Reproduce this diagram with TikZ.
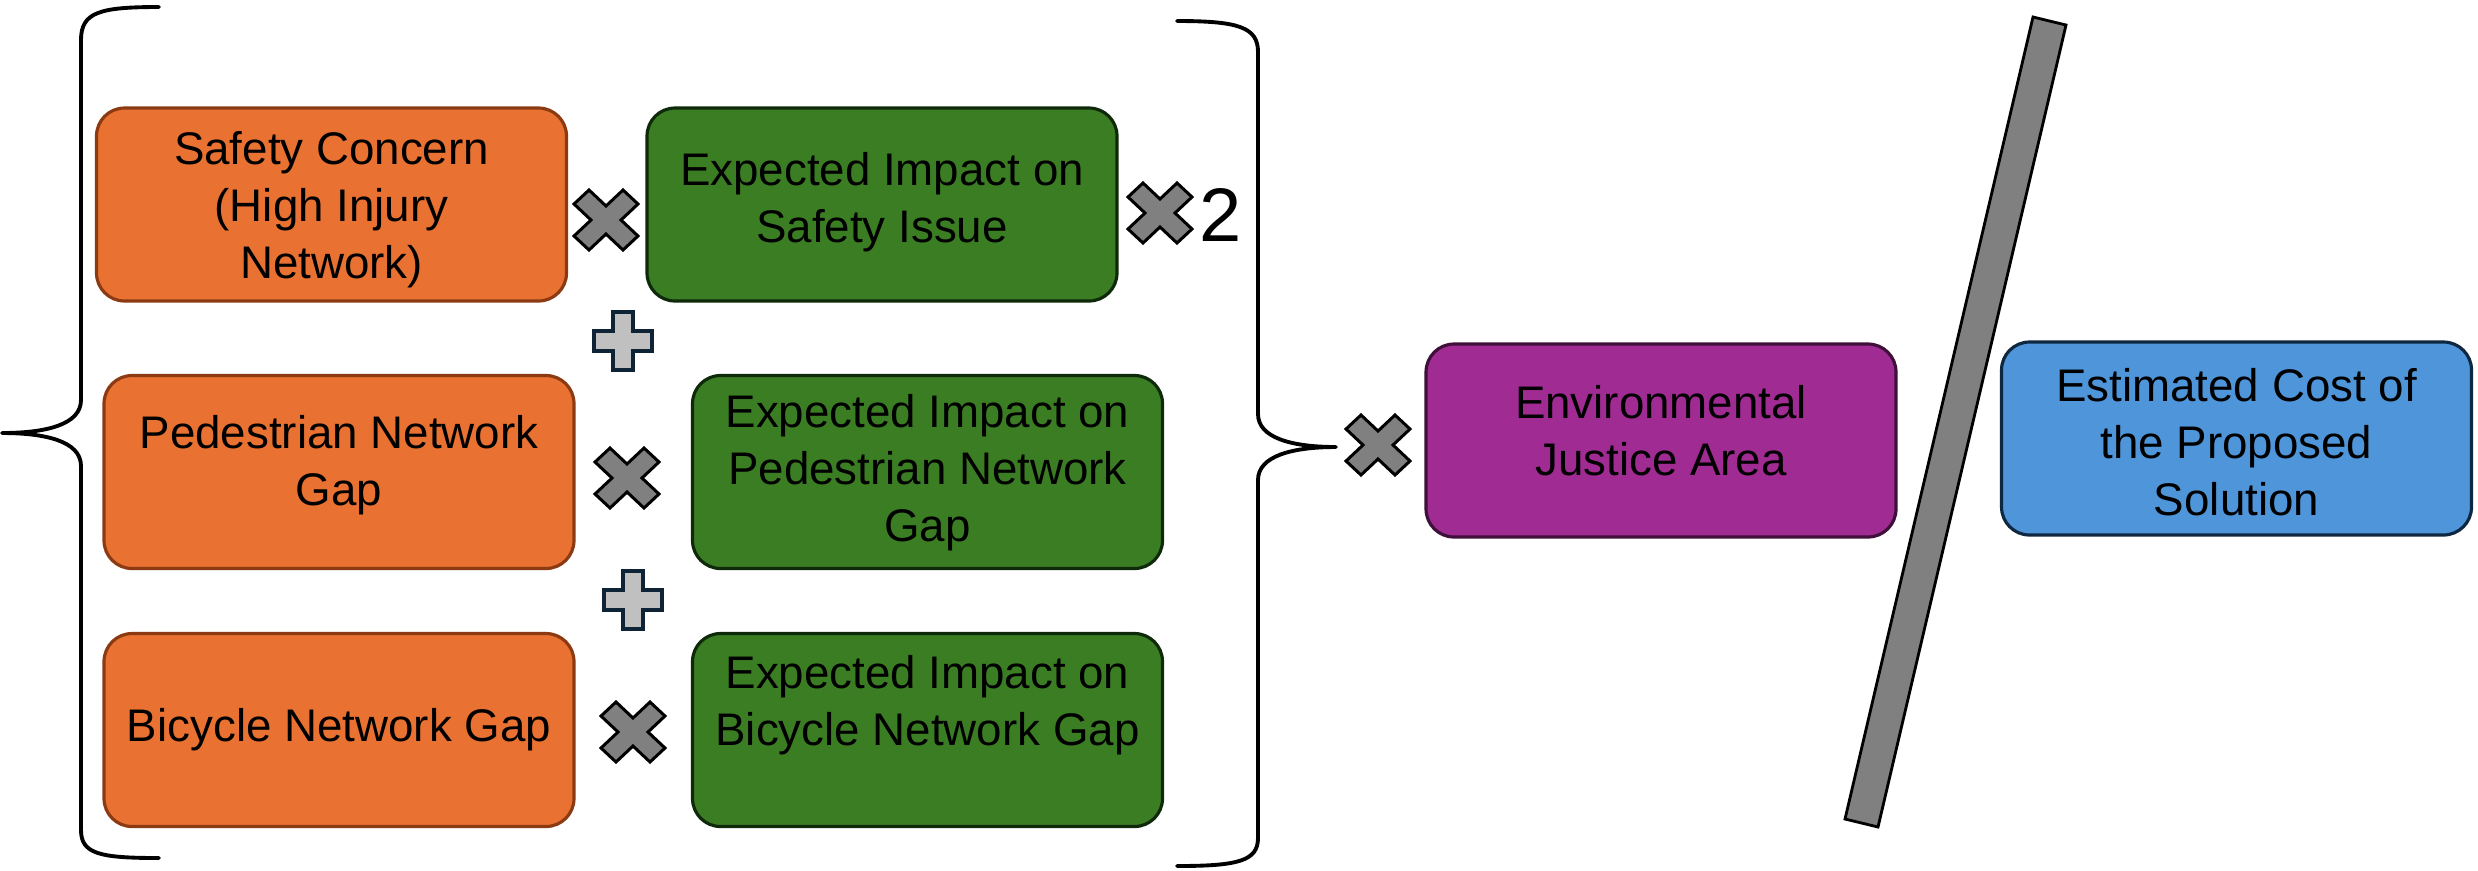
\documentclass[tikz,border=0pt]{standalone}
\usepackage{fontspec}
\setmainfont{Liberation Sans}
\definecolor{orfill}{HTML}{E97132}
\definecolor{ordraw}{HTML}{8B3A12}
\definecolor{grfill}{HTML}{3B7D23}
\definecolor{grdraw}{HTML}{0F2A0A}
\definecolor{pufill}{HTML}{A02B93}
\definecolor{pudraw}{HTML}{3F1039}
\definecolor{blfill}{HTML}{4E95D9}
\definecolor{bldraw}{HTML}{0E2841}
\definecolor{xgray}{HTML}{808080}
\definecolor{plgray}{HTML}{C0C0C0}
\definecolor{pldraw}{HTML}{0E2436}
% text block lowered by #1 (in units of 0.1mm), box size kept
\newcommand{\boxtext}[2]{\raisebox{-#1mm}[\height][\depth]{\begin{tabular}{@{}c@{}}#2\end{tabular}}}
\tikzset{
  box/.style={rounded corners=2.8mm, minimum width=47mm, minimum height=19.3mm,
    line width=0.9pt, align=center, inner sep=0pt,
    font=\fontsize{13}{16.2}\selectfont},
  orbox/.style={box, fill=orfill, draw=ordraw},
  grbox/.style={box, fill=grfill, draw=grdraw},
  pubox/.style={box, fill=pufill, draw=pudraw},
  blbox/.style={box, fill=blfill, draw=bldraw},
  bracesty/.style={line width=1.1pt, line cap=round, line join=round},
  pics/xmark/.style={code={
    \draw[fill=xgray, line width=0.85pt, line join=miter]
      (-32,-16) -- (-17,-30) -- (0,-14) -- (17,-30) -- (32,-16) -- (15,0)
      -- (32,16) -- (17,30) -- (0,14) -- (-17,30) -- (-32,16) -- (-15,0) -- cycle;
  }},
  pics/plusmark/.style={code={
    \draw[fill=plgray, draw=pldraw, line width=1.1pt, line join=miter]
      (-10,-29) -- (10,-29) -- (10,-10) -- (29,-10) -- (29,10) -- (10,10)
      -- (10,29) -- (-10,29) -- (-10,10) -- (-29,10) -- (-29,-10) -- (-10,-10) -- cycle;
  }}
}
\begin{document}
\begin{tikzpicture}[x=0.1mm,y=-0.1mm]
\useasboundingbox (0,0) rectangle (2478,870);

% left brace
\draw[bracesty] (159,7) .. controls (100,7) and (81,12) .. (81,40)
  -- (81,400) .. controls (81,425) and (45,433) .. (2,433)
  .. controls (45,433) and (81,441) .. (81,466)
  -- (81,830) .. controls (81,854) and (100,858) .. (159,858);

% right brace
\draw[bracesty] (1177,21) .. controls (1238,21) and (1258,27) .. (1258,52)
  -- (1258,414) .. controls (1258,438) and (1292,447) .. (1336,447)
  .. controls (1292,447) and (1258,456) .. (1258,480)
  -- (1258,838) .. controls (1258,861) and (1238,866) .. (1177,866);

% boxes
\node[orbox] (o1) at (331.5,204.5) {\boxtext{0.6}{Safety Concern\\(High Injury\\Network)}};
\node[grbox] (g1) at (882,204.5) {\boxtext{-0.2}{Expected Impact on\\Safety Issue}};
\node[orbox] (o2) at (339,472) {\boxtext{-0.6}{Pedestrian Network\\Gap}};
\node[grbox] (g2) at (927.5,472) {\boxtext{0.15}{Expected Impact on\\Pedestrian Network\\Gap}};
\node[orbox] (o3) at (339,730) {\boxtext{0.05}{Bicycle Network Gap}};
\node[grbox] (g3) at (927.5,730) {\boxtext{-2.4}{Expected Impact on\\Bicycle Network Gap}};
\node[pubox] (p1) at (1661,440.5) {\boxtext{-0.45}{Environmental\\Justice Area}};
\node[blbox] (b1) at (2236.5,438.5) {\boxtext{0.9}{Estimated Cost of\\the Proposed\\Solution}};

% operators
\pic at (606,220) {xmark};
\pic at (1160,213) {xmark};
\node[font=\fontsize{21.6}{24}\selectfont, inner sep=0pt, anchor=base] (two) at (1221,241) {2};
\pic at (627,478) {xmark};
\pic at (633,732) {xmark};
\pic at (1378,445) {xmark};
\pic at (623,341) {plusmark};
\pic at (633,600) {plusmark};

% division bar
\draw[fill=xgray, line width=0.8pt, line join=miter]
  (2033,17) -- (2066,25) -- (1878,827) -- (1845,819) -- cycle;
\end{tikzpicture}
\end{document}
